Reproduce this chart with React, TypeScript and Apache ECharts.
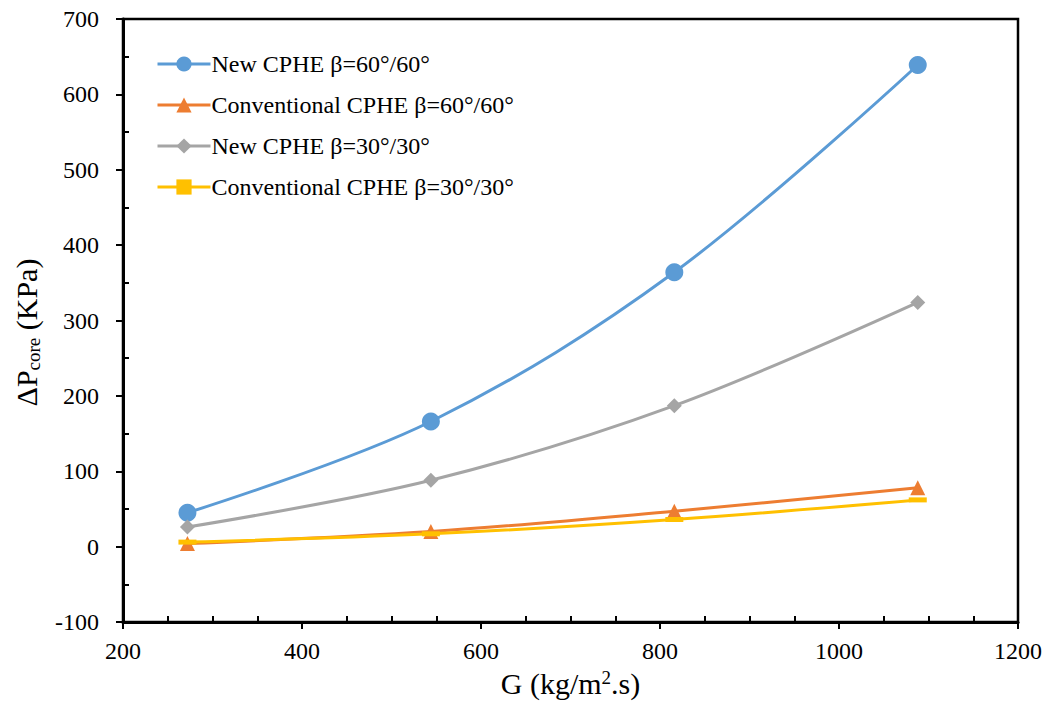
import React, { useEffect, useRef } from "react";
import * as echarts from "echarts";

const xValues = [272, 544, 816, 1088];
const newCphe60 = [45, 166, 364, 639];
const convCphe60 = [4, 20, 47, 78];
const newCphe30 = [26, 88, 187, 324];
const convCphe30 = [6, 17, 36, 62];
const seriesNames = [
  "New CPHE β=60°/60°",
  "Conventional CPHE β=60°/60°",
  "New CPHE β=30°/30°",
  "Conventional CPHE β=30°/30°",
];

const FONT = "Liberation Serif";

function pairs(ys: number[]) {
  return xValues.map((x, i) => [x, ys[i]]);
}

const t24 = { fontFamily: FONT, fontSize: 24, color: "#000" };

export default function App() {
  const ref = useRef<HTMLDivElement>(null);
  useEffect(() => {
    if (!ref.current) return;
    const chart = echarts.init(ref.current, undefined, { renderer: "svg" });
    const mk = (name: string, data: number[], color: string, symbol: string, size: any) => ({
      name,
      type: "line",
      data: pairs(data),
      smooth: 0.35,
      symbol,
      symbolSize: size,
      symbolKeepAspect: false,
      lineStyle: { color, width: 3 },
      itemStyle: { color },
      z: 3,
    });
    chart.setOption({
      animation: false,
      backgroundColor: "#fff",
      textStyle: { fontFamily: FONT },
      grid: {
        left: 123,
        right: 37,
        top: 19,
        bottom: 82,
        show: true,
        borderColor: "#000",
        borderWidth: 2.5,
        backgroundColor: "transparent",
      },
      legend: {
        orient: "vertical",
        left: 151,
        top: 47,
        itemWidth: 53,
        itemHeight: 19,
        itemGap: 17,
        lineStyle: { width: 3 },
        formatter: (n: string) => `{a|${n}}`,
        textStyle: { ...t24, padding: [0, 0, 0, -4], rich: { a: { ...t24 } } },
        data: seriesNames,
      },
      xAxis: {
        type: "value",
        min: 200,
        max: 1200,
        interval: 200,
        name: "{a|G (kg/m}{sup|2}{a|.s)}",
        nameLocation: "middle",
        nameGap: 45,
        nameTextStyle: {
          fontFamily: FONT,
          fontSize: 30,
          color: "#000",
          rich: {
            a: { fontFamily: FONT, fontSize: 30, color: "#000", lineHeight: 32, verticalAlign: "middle" },
            sup: { fontFamily: FONT, fontSize: 19, color: "#000", lineHeight: 32, verticalAlign: "top" },
          },
        },
        axisLine: { show: true, onZero: false, lineStyle: { color: "#000", width: 3 } },
        axisTick: { show: true, inside: false, length: 7, lineStyle: { color: "#000", width: 2 } },
        minorTick: { show: true, splitNumber: 4, length: -6, lineStyle: { color: "#000", width: 2 } },
        axisLabel: {
          ...t24,
          margin: 17,
          formatter: (v: number) => `{a|${v}}`,
          rich: { a: { ...t24 } },
        },
        splitLine: { show: false },
      },
      yAxis: {
        type: "value",
        min: -100,
        max: 700,
        interval: 100,
        name: "{a|ΔP}{sub|core}{a| (KPa)}",
        nameLocation: "middle",
        nameGap: 80,
        nameRotate: 90,
        nameTextStyle: {
          fontFamily: FONT,
          fontSize: 30,
          color: "#000",
          padding: [0, 24, 0, 0],
          rich: {
            a: { fontFamily: FONT, fontSize: 30, color: "#000", lineHeight: 34, verticalAlign: "middle" },
            sub: { fontFamily: FONT, fontSize: 19, color: "#000", lineHeight: 34, verticalAlign: "bottom" },
          },
        },
        axisLine: { show: true, onZero: false, lineStyle: { color: "#000", width: 3 } },
        axisTick: { show: true, inside: false, length: 7, lineStyle: { color: "#000", width: 2 } },
        minorTick: { show: true, splitNumber: 2, length: -6, lineStyle: { color: "#000", width: 2 } },
        axisLabel: {
          ...t24,
          margin: 24,
          formatter: (v: number) => `{a|${v}}`,
          rich: { a: { ...t24 } },
        },
        splitLine: { show: false },
      },
      series: [
        mk(seriesNames[0], newCphe60, "#5B9BD5", "circle", 18),
        mk(seriesNames[1], convCphe60, "#ED7D31", "triangle", 15),
        mk(seriesNames[2], newCphe30, "#A5A5A5", "diamond", 15),
        mk(seriesNames[3], convCphe30, "#FFC000", "path://M0 0h3v1h-3z", [18, 5]),
      ],
    });
    return () => chart.dispose();
  }, []);
  return (
    <div
      ref={ref}
      style={{ position: "fixed", left: 0, top: 0, width: 1055, height: 704, background: "#fff" }}
    />
  );
}
